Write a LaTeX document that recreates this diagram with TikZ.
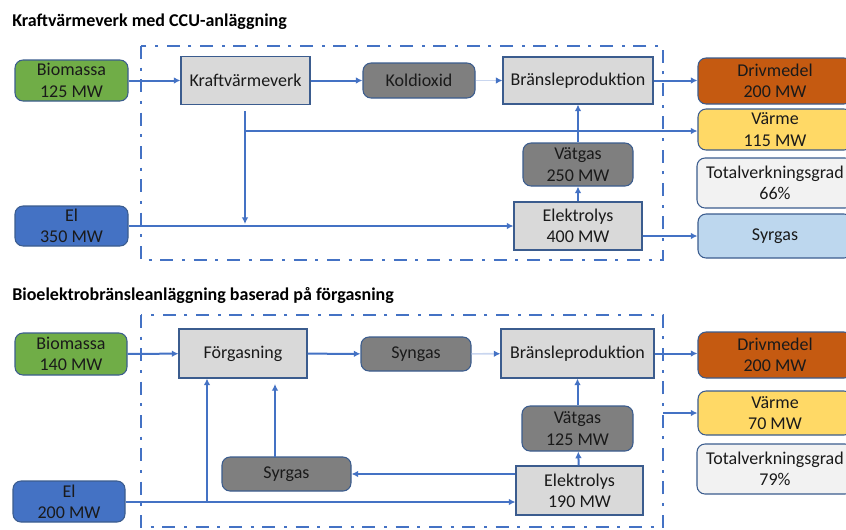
\documentclass[tikz,border=0pt]{standalone}
\usepackage{fontspec}
\setmainfont{Carlito}
\usetikzlibrary{arrows.meta}
\definecolor{lineblue}{HTML}{4472C4}
\definecolor{faintblue}{HTML}{C9D6EF}
\definecolor{edgeblue}{HTML}{3B5C8E}
\definecolor{bmgreen}{HTML}{70AD47}
\definecolor{fuelorange}{HTML}{C55A11}
\definecolor{heatyellow}{HTML}{FFD966}
\definecolor{procgray}{HTML}{D9D9D9}
\definecolor{midgray}{HTML}{7F7F7F}
\definecolor{oxblue}{HTML}{BDD7EE}
\definecolor{offwhite}{HTML}{F2F2F2}
\definecolor{inktext}{HTML}{1A1A1A}
\tikzset{
  box/.style={draw=edgeblue, line width=0.8pt, align=center, inner sep=1pt,
    text=inktext, font=\fontsize{13.5}{16}\selectfont},
  rbox/.style={box, rounded corners=6pt},
  proc/.style={box, fill=procgray},
  mid/.style={rbox, fill=midgray},
  flow/.style={draw=lineblue, line width=1.5pt, -{Latex[length=5pt,width=5pt]}},
  faint/.style={draw=faintblue, line width=1.2pt, -{Latex[length=5pt,width=5pt,color=lineblue]}},
  frame/.style={draw=lineblue, line width=2.2pt,
    dash pattern=on 9.75pt off 6.5pt on 2.25pt off 6.5pt},
  title/.style={anchor=west, inner sep=0pt, font=\fontsize{13.5}{16}\selectfont\bfseries}
}
\begin{document}
\begin{tikzpicture}[x=0.75pt,y=-0.75pt]
\useasboundingbox (0,0) rectangle (846,529);

% Kraftvärmeverk med CCU
\node[title] (t1) at (12,22) {Kraftvärmeverk med CCU-anläggning};
\draw[frame] (141,46) rectangle (663,260);
\node[rbox, fill=bmgreen, minimum width=84.75pt, minimum height=30.75pt] (bio1) at (71.5,80.5) {Biomassa\\125 MW};
\node[proc, minimum width=96.75pt, minimum height=36pt] (kvv) at (245.5,80.5) {Kraftvärmeverk};
\node[mid, minimum width=84pt, minimum height=26.25pt] (co2) at (419,80.5) {Koldioxid};
\node[proc, minimum width=112.5pt, minimum height=35.25pt] (bp1) at (578,80.5) {Bränsleproduktion};
\node[rbox, fill=fuelorange, minimum width=115.5pt, minimum height=34.5pt] (driv1) at (775,81) {Drivmedel\\200 MW};
\node[rbox, fill=heatyellow, minimum width=115.5pt, minimum height=30.75pt] (varme1) at (775,129.5) {Värme\\115 MW};
\node[rbox, fill=offwhite, minimum width=117pt, minimum height=37.5pt] (tot1) at (775,183) {Totalverkningsgrad\\66\%};
\node[rbox, fill=oxblue, minimum width=115.5pt, minimum height=33pt] (syr1) at (775,236) {Syrgas};
\node[mid, minimum width=82.5pt, minimum height=32.25pt] (vat1) at (578,164.5) {Vätgas\\250 MW};
\node[proc, minimum width=96pt, minimum height=36pt] (ely1) at (578,226) {Elektrolys\\400 MW};
\node[rbox, fill=lineblue, minimum width=84.75pt, minimum height=30pt] (el1) at (71.5,226) {El\\350 MW};
\coordinate (kvvs) at (245,111);
\coordinate (kvvv) at (245,131);
\coordinate (kvve) at (245,224);
\draw[flow] (bio1) -- (kvv);
\draw[flow] (kvv) -- (co2);
\draw[faint] (co2) -- (bp1);
\draw[flow] (bp1) -- (driv1.west |- bp1);
\draw[flow] (kvvs) -- (kvve);
\draw[flow] (kvvv) -- (kvvv -| varme1.west);
\draw[flow] (el1) -- (ely1);
\draw[flow] (ely1) -- (vat1);
\draw[flow] (vat1) -- (bp1);
\draw[flow] (ely1.east |- syr1) -- (syr1.west);

% Bioelektrobränsle, förgasning
\node[title] (t2) at (12,295) {Bioelektrobränsleanläggning baserad på förgasning};
\draw[frame] (141,315) rectangle (663,527);
\node[rbox, fill=bmgreen, minimum width=84pt, minimum height=31.5pt] (bio2) at (71,354) {Biomassa\\140 MW};
\node[proc, minimum width=96pt, minimum height=36.75pt] (forg) at (243,353.5) {Förgasning};
\node[mid, minimum width=82.5pt, minimum height=25.5pt] (syn) at (416,354) {Syngas};
\node[proc, minimum width=114.75pt, minimum height=36.75pt] (bp2) at (577.5,353.5) {Bränsleproduktion};
\node[rbox, fill=fuelorange, minimum width=115.5pt, minimum height=34.5pt] (driv2) at (775,355) {Drivmedel\\200 MW};
\node[rbox, fill=heatyellow, minimum width=115.5pt, minimum height=33pt] (varme2) at (775,413) {Värme\\70 MW};
\node[rbox, fill=offwhite, minimum width=117pt, minimum height=37.5pt] (tot2) at (775,469) {Totalverkningsgrad\\79\%};
\node[mid, minimum width=83.25pt, minimum height=33.75pt] (vat2) at (577.5,428.5) {Vätgas\\125 MW};
\node[proc, minimum width=95.25pt, minimum height=36.75pt] (ely2) at (579.5,490.5) {Elektrolys\\190 MW};
\node[mid, minimum width=96.75pt, minimum height=25.5pt] (syr2) at (286.5,474) {Syrgas};
\node[rbox, fill=lineblue, minimum width=84pt, minimum height=30.75pt] (el2) at (69,501.5) {El\\200 MW};
\coordinate (vst) at (663,413);
\coordinate (elj) at (207,502);
\coordinate (syrt) at (275,457);
\coordinate (syre) at (275,384);
\draw[flow] (bio2) -- (forg);
\draw[flow] (forg) -- (syn);
\draw[faint] (syn) -- (bp2);
\draw[flow] (bp2) -- (driv2.west |- bp2);
\draw[flow] (vst) -- (varme2.west);
\draw[flow] (el2.east |- elj) -- (elj -| ely2.west);
\draw[flow] (elj) -- (elj |- forg.south);
\draw[flow] (ely2.west |- syr2) -- (syr2.east);
\draw[flow] (syrt) -- (syre);
\draw[flow] (ely2) -- (vat2);
\draw[flow] (vat2) -- (bp2);
\end{tikzpicture}
\end{document}
